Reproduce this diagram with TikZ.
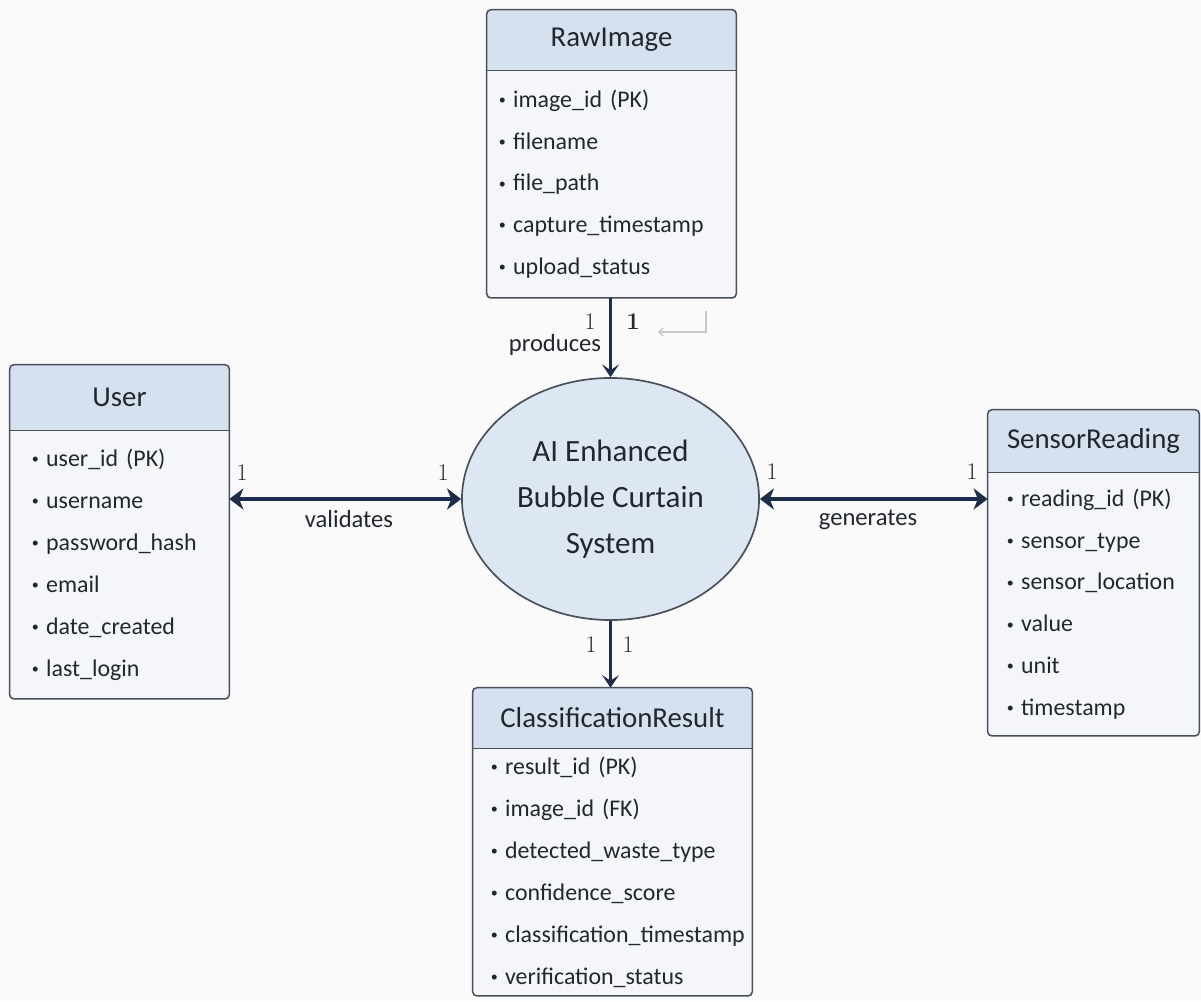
\documentclass[tikz,border=0pt]{standalone}
\usepackage{fontspec}
\setsansfont{Carlito}
\usetikzlibrary{arrows.meta,positioning,shapes.geometric,calc}
\definecolor{headcol}{RGB}{214,225,240}
\definecolor{bodycol}{RGB}{244,246,250}
\definecolor{linecol}{RGB}{72,80,92}
\definecolor{textcol}{RGB}{34,38,46}
\definecolor{arrowcol}{RGB}{30,46,74}
\definecolor{ellcol}{RGB}{221,230,243}
\definecolor{bgcol}{RGB}{250,250,251}
\newcommand{\bl}{\raisebox{0.12em}{\fontsize{10}{10}\selectfont\textbullet}\nobreak\hspace{0.3em}}
\newcommand{\nohyph}{\hyphenpenalty=10000\relax}
\tikzset{
  head/.style  = {rectangle, fill=headcol, minimum width=#1, minimum height=1.5cm,
                  inner sep=0pt, text=textcol,
                  font=\sffamily\fontsize{20.5}{22}\selectfont},
  body/.style  = {rectangle, fill=bodycol, text width=#1, align=left,
                  inner xsep=0.55cm, inner ysep=0pt, text=textcol,
                  font=\sffamily\fontsize{17}{29.8}\selectfont\nohyph},
  frame/.style = {draw=linecol, line width=1.1pt, rounded corners=3pt},
  sep/.style   = {draw=linecol, line width=1.1pt},
  sys/.style   = {ellipse, draw=linecol, line width=1.2pt, fill=ellcol,
                  minimum width=7.425cm, minimum height=6.05cm, inner sep=0pt,
                  align=center, text=textcol,
                  font=\sffamily\fontsize{22}{32.6}\selectfont},
  link/.style  = {draw=arrowcol, line width=2.4pt,
                  {Stealth[length=10pt, width=15pt, inset=3pt]}-{Stealth[length=10pt, width=15pt, inset=3pt]}},
  flow/.style  = {draw=arrowcol, line width=1.8pt,
                  -{Stealth[length=9pt, width=12pt, inset=4pt]}},
  num/.style   = {font=\rmfamily\fontsize{17}{17}\selectfont, text=textcol},
  rel/.style   = {font=\sffamily\fontsize{17.5}{17.5}\selectfont, text=textcol},
  hook/.style  = {draw=black!22, line width=1pt, -{Straight Barb[length=3pt]}},
}

\begin{document}
\begin{tikzpicture}[x=0.025cm, y=-0.025cm]
  \useasboundingbox[fill=bgcol] (0,0) rectangle (1201,1001);

  % entities
  \node[head=6.225cm] (rawh) at (611.5,40) {RawImage};
  \node[body=5.625cm, inner xsep=0.3cm, minimum height=5.675cm, below=0pt of rawh] (rawb)
       {\bl image\_id (PK)\\ \bl filename\\ \bl file\_path\\
        \bl capture\_timestamp\\ \bl upload\_status};

  \node[head=5.475cm, minimum height=1.625cm] (userh) at (119.5,397.5) {User};
  \node[body=4.375cm, minimum height=6.7cm, below=0pt of userh] (userb)
       {\bl user\_id (PK)\\ \bl username\\ \bl password\_hash\\
        \bl email\\ \bl date\_created\\ \bl last\_login};

  \node[head=5.275cm, minimum height=1.55cm] (senh) at (1093.5,441) {SensorReading};
  \node[body=4.325cm, inner xsep=0.475cm, minimum height=6.575cm, below=0pt of senh] (senb)
       {\bl reading\_id (PK)\\ \bl sensor\_type\\ \bl sensor\_location\\
        \bl value\\ \bl unit\\ \bl timestamp};

  \node[head=6.975cm] (clsh) at (612.5,718) {ClassificationResult};
  \node[body=6.075cm, inner xsep=0.45cm, minimum height=6.175cm, below=0pt of clsh] (clsb)
       {\bl result\_id (PK)\\ \bl image\_id (FK)\\ \bl detected\_waste\_type\\
        \bl confidence\_score\\ \bl classification\_timestamp\\
        \bl verification\_status};

  \foreach \h/\b in {rawh/rawb, userh/userb, senh/senb, clsh/clsb} {
    \draw[frame] (\h.north west) rectangle (\b.south east);
    \draw[sep] (\b.north west) -- (\b.north east);
  }

  \node[sys] (sys) at (610.5,499) {AI Enhanced\\ Bubble Curtain\\ System};

  % relationships
  \draw[flow] (sys.north |- rawb.south) -- (sys.north);
  \draw[flow] (sys.south) -- (sys.south |- clsh.north);
  \draw[link] (userb.east |- sys.west) -- (sys.west);
  \draw[link] (sys.east) -- (sys.east -| senb.west);

  \node[num] (n1) at (590,322) {1};
  \node[num] (n2) at (633,322) {\bfseries 1};
  \node[rel] (produces) at (555,345) {produces};
  \node[num] (n3) at (242,473) {1};
  \node[num] (n4) at (443,473) {1};
  \node[rel] (validates) at (349,519) {validates};
  \node[num] (n5) at (772,472) {1};
  \node[num] (n6) at (972,472) {1};
  \node[rel] (generates) at (868,520) {generates};
  \node[num] (n7) at (591,645) {1};
  \node[num] (n8) at (628,645) {1};

  \coordinate (hk1) at (706,311);
  \coordinate (hk2) at (658,332);
  \draw[hook] (hk1) |- (hk2);
\end{tikzpicture}
\end{document}
